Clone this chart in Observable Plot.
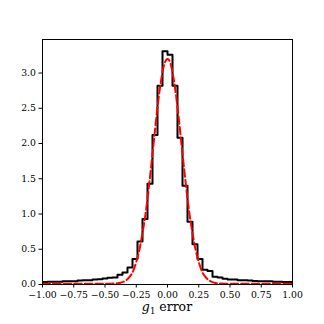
<!DOCTYPE html>
<html>
<head>
<meta charset="utf-8">
<script src="https://cdn.jsdelivr.net/npm/d3@7"></script>
<script src="https://cdn.jsdelivr.net/npm/@observablehq/plot@0.6"></script>
<style>
  html, body { margin: 0; padding: 0; background: #fff; }
  svg { display: block; }
</style>
</head>
<body>
<div id="chart"></div>
<script>
// Histogram bin edges (50 bins on [-1, 1])
const binEdges = [
  -1.00, -0.96, -0.92, -0.88, -0.84, -0.80, -0.76, -0.72, -0.68, -0.64,
  -0.60, -0.56, -0.52, -0.48, -0.44, -0.40, -0.36, -0.32, -0.28, -0.24,
  -0.20, -0.16, -0.12, -0.08, -0.04, 0.00, 0.04, 0.08, 0.12, 0.16,
  0.20, 0.24, 0.28, 0.32, 0.36, 0.40, 0.44, 0.48, 0.52, 0.56,
  0.60, 0.64, 0.68, 0.72, 0.76, 0.80, 0.84, 0.88, 0.92, 0.96, 1.00
];
// Histogram densities (one per bin)
const binHeights = [
  0.035, 0.04, 0.04, 0.04, 0.045, 0.045, 0.045, 0.055, 0.06, 0.06,
  0.07, 0.075, 0.085, 0.095, 0.10, 0.14, 0.17, 0.24, 0.36, 0.61,
  0.93, 1.43, 2.12, 2.82, 3.31, 3.26, 2.82, 2.08, 1.40, 0.89,
  0.57, 0.36, 0.21, 0.19, 0.11, 0.10, 0.08, 0.07, 0.07, 0.06,
  0.06, 0.055, 0.05, 0.045, 0.045, 0.045, 0.04, 0.04, 0.035, 0.035
];
// Red dashed fitted curve
const curveX = [
  -1.0, -0.5, -0.475, -0.45, -0.425, -0.4, -0.375, -0.35, -0.325, -0.3, -0.275,
  -0.25, -0.225, -0.2, -0.175, -0.15, -0.125, -0.1, -0.075, -0.05, -0.025,
  0.0, 0.025, 0.05, 0.075, 0.1, 0.125, 0.15, 0.175, 0.2, 0.225,
  0.25, 0.275, 0.3, 0.325, 0.35, 0.375, 0.4, 0.425, 0.45, 0.475, 0.5, 1.0
];
const curveY = [
  0.01, 0.01, 0.01, 0.012, 0.014, 0.018, 0.026, 0.04, 0.068, 0.115, 0.19,
  0.32, 0.49, 0.73, 1.01, 1.37, 1.77, 2.19, 2.59, 2.91, 3.13,
  3.20, 3.13, 2.91, 2.59, 2.19, 1.77, 1.37, 1.01, 0.73, 0.49,
  0.32, 0.19, 0.115, 0.068, 0.04, 0.026, 0.018, 0.014, 0.012, 0.01, 0.01, 0.01
];
const xTicks = [-1.0, -0.75, -0.5, -0.25, 0.0, 0.25, 0.5, 0.75, 1.0];
const yTicks = [0.0, 0.5, 1.0, 1.5, 2.0, 2.5, 3.0];
const yMax = 3.4755;

// Step outline: from baseline, through each bin, back to baseline
const stepPts = [{x: binEdges[0], y: 0}];
binHeights.forEach((h, i) => stepPts.push({x: binEdges[i], y: h}));
stepPts.push({x: binEdges[binEdges.length - 1], y: binHeights[binHeights.length - 1]});
stepPts.push({x: binEdges[binEdges.length - 1], y: 0});

const curvePts = curveX.map((x, i) => ({x, y: curveY[i]}));

const serif = "'DejaVu Serif', serif";

const chart = Plot.plot({
  width: 324,
  height: 324,
  marginLeft: 42,
  marginRight: 32,
  marginTop: 39,
  marginBottom: 40,
  style: {fontFamily: serif, fontSize: "9.3px", color: "black", background: "white"},
  x: {domain: [-1, 1]},
  y: {domain: [0, yMax]},
  marks: [
    Plot.line(stepPts, {x: "x", y: "y", curve: "step-after", stroke: "black", strokeWidth: 2, clip: true}),
    Plot.line(curvePts, {x: "x", y: "y", curve: "monotone-x", stroke: "#ff0000", strokeWidth: 2, strokeDasharray: "7.4 3.2", clip: true}),
    Plot.axisX({ticks: xTicks, tickFormat: d3.format(".2f"), tickSize: 3.5, tickPadding: 3, label: null, stroke: "black", strokeOpacity: 1, fontSize: 9.3}),
    Plot.axisY({ticks: yTicks, tickFormat: d3.format(".1f"), tickSize: 3.5, tickPadding: 3, label: null, stroke: "black", strokeOpacity: 1, fontSize: 9.3}),
    Plot.frame({stroke: "black", strokeWidth: 1})
  ]
});

const svg = d3.select(chart);
svg.selectAll("text").attr("font-family", serif).style("font-variant", "normal");
const lbl = svg.append("text")
  .attr("x", 167)
  .attr("y", 311)
  .attr("text-anchor", "middle")
  .attr("font-family", serif)
  .attr("font-size", "12.5px")
  .attr("fill", "black");
lbl.append("tspan").attr("font-style", "italic").text("g");
lbl.append("tspan").attr("font-size", "8.5px").attr("dy", "2.5").text("1");
lbl.append("tspan").attr("dy", "-2.5").text(" error");

document.getElementById("chart").appendChild(chart);
</script>
</body>
</html>
